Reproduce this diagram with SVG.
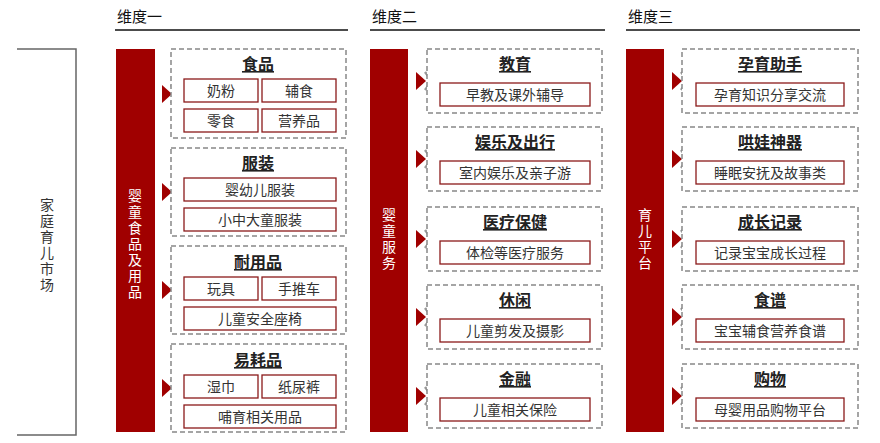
<svg xmlns="http://www.w3.org/2000/svg" width="880" height="443" viewBox="0 0 880 443">
<style>
text{font-family:"Noto Sans CJK SC","Noto Sans",sans-serif;fill:#333}
.h{font-size:15px;fill:#111}
.t{font-size:16px;font-weight:bold;fill:#222;text-anchor:middle;text-decoration:underline}
.c{font-size:14px;text-anchor:middle}
.vt{font-size:14px;text-anchor:middle;writing-mode:vertical-rl;letter-spacing:2px}
.v{fill:#fff}
.grp{fill:#fff;stroke:#888;stroke-width:1.5;stroke-dasharray:5,3}
.cell{fill:#fff;stroke:#8b1a1a;stroke-width:1.3}
.bar{fill:#a00000}
</style>
<defs>
<g id="arr"><polygon points="0,-9 10,0 0,9" fill="#a00000"/><polyline points="9,-9 16,0 9,9" fill="none" stroke="#999" stroke-width="2.5"/></g>
</defs>
<g id="headings">
<text class="h" x="117" y="22">维度一</text><line x1="115" y1="30" x2="348" y2="30" stroke="#111" stroke-width="1.5"/>
<text class="h" x="372" y="22">维度二</text><line x1="370" y1="30" x2="605" y2="30" stroke="#111" stroke-width="1.5"/>
<text class="h" x="628" y="22">维度三</text><line x1="626" y1="30" x2="860" y2="30" stroke="#111" stroke-width="1.5"/>
</g>
<g id="market">
<polyline points="17,49 76,49 76,435 17,435" fill="none" stroke="#666" stroke-width="1.5"/>
<text class="vt" x="47" y="246">家庭育儿市场</text>
</g>
<g id="bar1"><rect class="bar" x="116" y="49" width="39" height="383"/>
<text class="vt v" x="135" y="245">婴童食品及用品</text></g>
<g id="bar2"><rect class="bar" x="370" y="49" width="38" height="383"/>
<text class="vt v" x="389" y="240">婴童服务</text></g>
<g id="bar3"><rect class="bar" x="626" y="49" width="38" height="383"/>
<text class="vt v" x="645" y="240">育儿平台</text></g>
<g id="connectors">
<use href="#arr" x="162" y="94"/><use href="#arr" x="162" y="192"/><use href="#arr" x="162" y="290"/><use href="#arr" x="162" y="388"/>
<use href="#arr" x="416" y="81"/><use href="#arr" x="416" y="159"/><use href="#arr" x="416" y="239"/><use href="#arr" x="416" y="317"/><use href="#arr" x="416" y="396"/>
<use href="#arr" x="672" y="81"/><use href="#arr" x="672" y="159"/><use href="#arr" x="672" y="239"/><use href="#arr" x="672" y="317"/><use href="#arr" x="672" y="396"/>
</g>
<g id="food"><rect class="grp" x="171" y="49" width="175" height="89"/><text class="t" x="258" y="70">食品</text>
<rect class="cell" x="184" y="79" width="74" height="23"/><text class="c" x="221" y="96">奶粉</text>
<rect class="cell" x="262" y="79" width="74" height="23"/><text class="c" x="299" y="96">辅食</text>
<rect class="cell" x="184" y="109" width="74" height="23"/><text class="c" x="221" y="126">零食</text>
<rect class="cell" x="262" y="109" width="74" height="23"/><text class="c" x="299" y="126">营养品</text></g>
<g id="clothing"><rect class="grp" x="171" y="148" width="175" height="88"/><text class="t" x="258" y="169">服装</text>
<rect class="cell" x="184" y="178" width="152" height="23"/><text class="c" x="260" y="195">婴幼儿服装</text>
<rect class="cell" x="184" y="208" width="152" height="23"/><text class="c" x="260" y="225">小中大童服装</text></g>
<g id="durable"><rect class="grp" x="171" y="246" width="175" height="88"/><text class="t" x="258" y="268">耐用品</text>
<rect class="cell" x="184" y="277" width="74" height="23"/><text class="c" x="221" y="294">玩具</text>
<rect class="cell" x="262" y="277" width="74" height="23"/><text class="c" x="299" y="294">手推车</text>
<rect class="cell" x="184" y="307" width="152" height="23"/><text class="c" x="260" y="324">儿童安全座椅</text></g>
<g id="consumable"><rect class="grp" x="171" y="344" width="175" height="88"/><text class="t" x="258" y="366">易耗品</text>
<rect class="cell" x="184" y="375" width="74" height="23"/><text class="c" x="221" y="392">湿巾</text>
<rect class="cell" x="262" y="375" width="74" height="23"/><text class="c" x="299" y="392">纸尿裤</text>
<rect class="cell" x="184" y="405" width="152" height="23"/><text class="c" x="260" y="422">哺育相关用品</text></g>
<g id="edu"><rect class="grp" x="427" y="49" width="175" height="64"/><text class="t" x="515" y="70">教育</text>
<rect class="cell" x="440" y="83" width="150" height="23"/><text class="c" x="515" y="100">早教及课外辅导</text></g>
<g id="ent"><rect class="grp" x="427" y="127" width="175" height="64"/><text class="t" x="515" y="148">娱乐及出行</text>
<rect class="cell" x="440" y="161" width="150" height="23"/><text class="c" x="515" y="178">室内娱乐及亲子游</text></g>
<g id="med"><rect class="grp" x="427" y="207" width="175" height="64"/><text class="t" x="515" y="228">医疗保健</text>
<rect class="cell" x="440" y="241" width="150" height="23"/><text class="c" x="515" y="258">体检等医疗服务</text></g>
<g id="leisure"><rect class="grp" x="427" y="285" width="175" height="64"/><text class="t" x="515" y="306">休闲</text>
<rect class="cell" x="440" y="319" width="150" height="23"/><text class="c" x="515" y="336">儿童剪发及摄影</text></g>
<g id="fin"><rect class="grp" x="427" y="364" width="175" height="64"/><text class="t" x="515" y="385">金融</text>
<rect class="cell" x="440" y="398" width="150" height="23"/><text class="c" x="515" y="415">儿童相关保险</text></g>
<g id="preg"><rect class="grp" x="682" y="49" width="176" height="64"/><text class="t" x="770" y="70">孕育助手</text>
<rect class="cell" x="696" y="83" width="148" height="23"/><text class="c" x="770" y="100">孕育知识分享交流</text></g>
<g id="sleep"><rect class="grp" x="682" y="127" width="176" height="64"/><text class="t" x="770" y="148">哄娃神器</text>
<rect class="cell" x="696" y="161" width="148" height="23"/><text class="c" x="770" y="178">睡眠安抚及故事类</text></g>
<g id="grow"><rect class="grp" x="682" y="207" width="176" height="64"/><text class="t" x="770" y="228">成长记录</text>
<rect class="cell" x="696" y="241" width="148" height="23"/><text class="c" x="770" y="258">记录宝宝成长过程</text></g>
<g id="recipe"><rect class="grp" x="682" y="285" width="176" height="64"/><text class="t" x="770" y="306">食谱</text>
<rect class="cell" x="696" y="319" width="148" height="23"/><text class="c" x="770" y="336">宝宝辅食营养食谱</text></g>
<g id="shop"><rect class="grp" x="682" y="364" width="176" height="64"/><text class="t" x="770" y="385">购物</text>
<rect class="cell" x="696" y="398" width="148" height="23"/><text class="c" x="770" y="415">母婴用品购物平台</text></g>
</svg>
